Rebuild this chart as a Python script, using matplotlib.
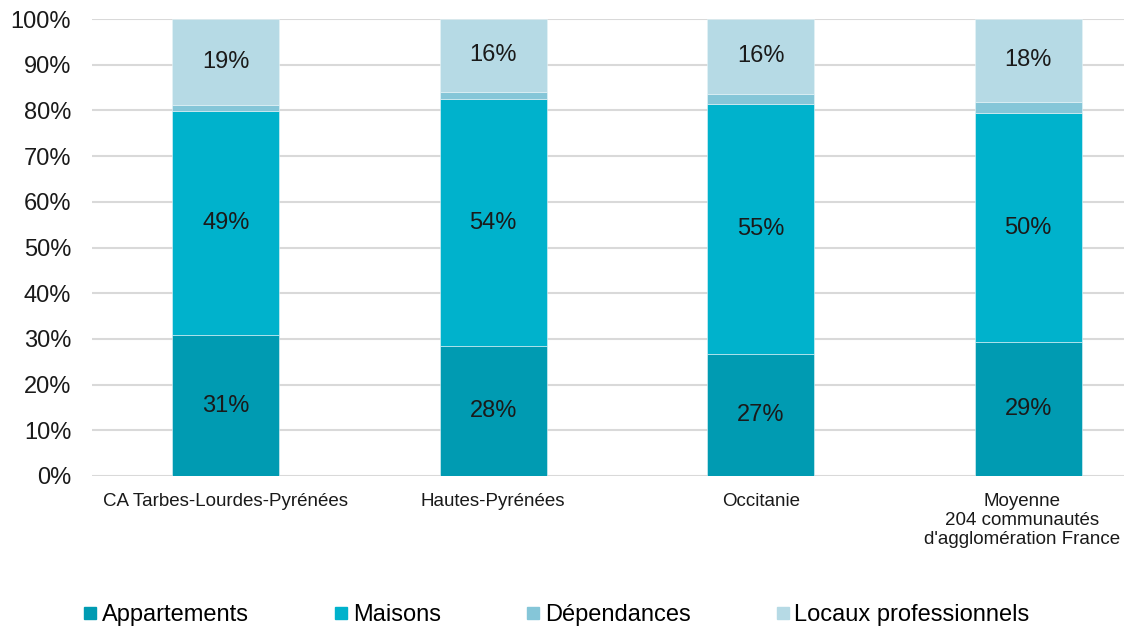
import matplotlib
matplotlib.use("Agg")
import matplotlib.pyplot as plt
from matplotlib.ticker import FuncFormatter, MultipleLocator
from matplotlib.lines import Line2D
from matplotlib.transforms import ScaledTranslation
import numpy as np

plt.rcParams['font.family'] = ['Liberation Sans', 'DejaVu Sans']

categories = [
    "CA Tarbes-Lourdes-Pyrénées",
    "Hautes-Pyrénées",
    "Occitanie",
    "Moyenne\n204 communautés\nd'agglomération France",
]
series_names = ["Appartements", "Maisons", "Dépendances", "Locaux professionnels"]
appartements = [30.8, 28.4, 26.8, 29.3]
maisons = [49.0, 54.1, 54.6, 50.1]
dependances = [1.4, 1.6, 2.2, 2.5]
locaux = [18.8, 15.9, 16.4, 18.1]

colors = ["#009BB2", "#00B2CC", "#85C6D8", "#B6DAE5"]
show_label = [True, True, False, True]

fig = plt.figure(figsize=(11.24, 6.28), dpi=100)
ax = fig.add_axes([92 / 1124, 1 - 476 / 628, 1070 / 1124, 457 / 628])

x = np.arange(len(categories))
bottom = np.zeros(len(categories))
for name, vals, col, lab in zip(series_names,
                                [appartements, maisons, dependances, locaux],
                                colors, show_label):
    vals = np.array(vals)
    ax.bar(x, vals, width=0.4, bottom=bottom, color=col, label=name,
           edgecolor="#E6F4F8", linewidth=0.4, zorder=3)
    if lab:
        for xi, b, v in zip(x, bottom, vals):
            ax.text(xi, b + v / 2, f"{v:.0f}%", ha="center", va="center",
                    fontsize=17, color="#1a1a1a", zorder=4)
    bottom += vals

ax.set_xlim(-0.5, 3.5)
ax.set_ylim(0, 100)
ax.yaxis.set_major_locator(MultipleLocator(10))
ax.yaxis.set_major_formatter(FuncFormatter(lambda v, p: f"{v:.0f}%"))
ax.grid(axis="y", color="#D9D9D9", linewidth=1.5, zorder=0)
ax.set_axisbelow(True)
for s in ax.spines.values():
    s.set_visible(False)
ax.tick_params(axis="y", length=0, labelsize=17, pad=15, labelcolor="#1a1a1a")
ax.tick_params(axis="x", length=0, labelsize=13.5, pad=12, labelcolor="#1a1a1a")
ax.set_xticks(x)
ax.set_xticklabels(categories, linespacing=1.18)

# keep the long three-line label inside the right edge of the figure
last = ax.get_xticklabels()[-1]
last.set_transform(last.get_transform() + ScaledTranslation(-6 / 100, 0, fig.dpi_scale_trans))

handles = [Line2D([0], [0], marker="s", linestyle="none", markersize=9,
                  markerfacecolor=c, markeredgecolor=c) for c in colors]
fig.legend(handles, series_names, loc="center", bbox_to_anchor=(0.495, 1 - 615 / 628),
           ncol=4, frameon=False, fontsize=17, handlelength=0.6,
           handletextpad=0.2, columnspacing=3.6, borderaxespad=0)

fig.savefig("out.png", dpi=100)
